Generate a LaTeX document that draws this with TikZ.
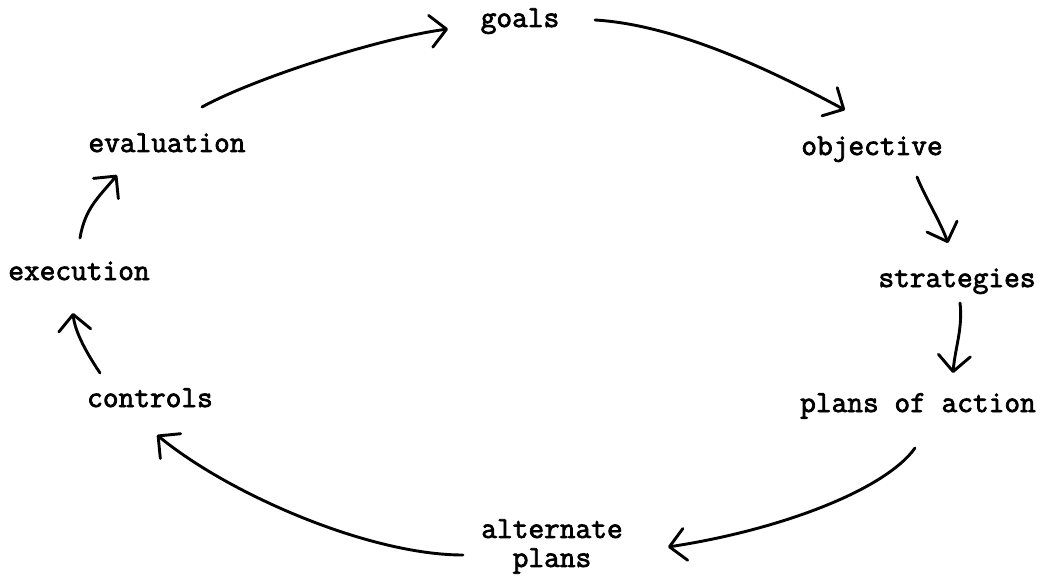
\documentclass[tikz,border=0pt]{standalone}
\usepackage{fontspec}
\newfontfamily\tw[FakeBold=2.5]{Latin Modern Mono}
\usetikzlibrary{arrows.meta}
\tikzset{
  lbl/.style={font=\tw\fontsize{30.5}{29}\selectfont, inner sep=0pt, anchor=base},
  conn/.style={line width=2.9pt, line cap=round, line join=round,
    -{Straight Barb[length=16pt,width=32pt,round]}}
}
\begin{document}
\begin{tikzpicture}[x=1pt,y=-1pt]
\useasboundingbox (0,0) rectangle (1043,577);
\node[lbl] (goals) at (520,27) {goals};
\node[lbl] (objective) at (872,155) {objective};
\node[lbl] (strategies) at (957,287) {strategies};
\node[lbl] (plans) at (918,412) {plans of action};
\node[lbl, anchor=center, align=center] (alt) at (552,546.5) {alternate\\plans};
\node[lbl] (controls) at (150,407) {controls};
\node[lbl] (execution) at (79,280) {execution};
\node[lbl] (evaluation) at (167,152) {evaluation};

\draw[conn] ([shift={(35,-45)}]evaluation.base) .. controls +(53,-29) and +(-68,9) .. ([shift={(-72,2)}]goals.base);
\draw[conn] ([shift={(75,-7)}]goals.base) .. controls +(85,5) and +(-65,-35) .. ([shift={(-27,-45)}]objective.base);
\draw[conn] ([shift={(45,22)}]objective.base) .. controls +(8,20) and +(-8,-22) .. ([shift={(-9,-44)}]strategies.base);
\draw[conn] ([shift={(3,16)}]strategies.base) .. controls +(3,25) and +(2,-25) .. ([shift={(35,-39)}]plans.base);
\draw[conn] ([shift={(-3,36)}]plans.base) .. controls +(-30,42) and +(112,-17) .. ([shift={(116,0.5)}]alt.center);
\draw[conn] ([shift={(-89,8.5)}]alt.center) .. controls +(-93,0) and +(73,60) .. ([shift={(7,28)}]controls.base);
\draw[conn] ([shift={(-50,-34)}]controls.base) .. controls +(-12,-18) and +(2,20) .. ([shift={(-6,33)}]execution.base);
\draw[conn] ([shift={(1,-42)}]execution.base) .. controls +(5,-30) and +(-18,22) .. ([shift={(-50,23)}]evaluation.base);
\end{tikzpicture}
\end{document}
